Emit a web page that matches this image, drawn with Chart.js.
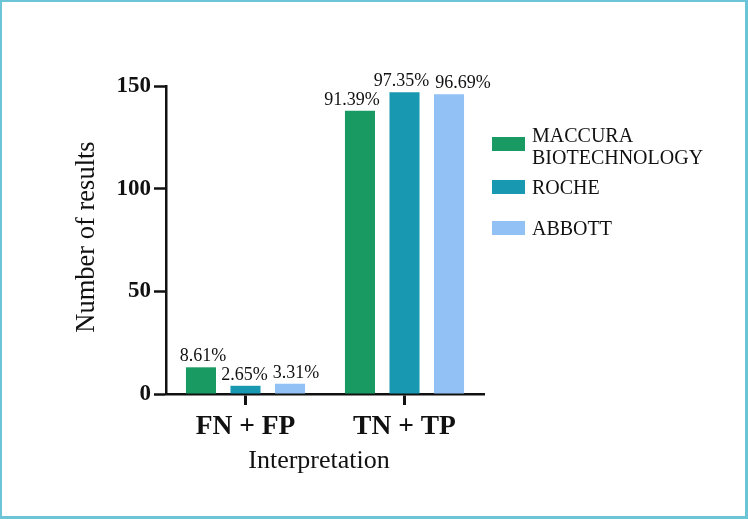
<!DOCTYPE html>
<html>
<head>
<meta charset="utf-8">
<script src="https://cdn.jsdelivr.net/npm/chart.js@4.4.1/dist/chart.umd.min.js"></script>
<style>
  html, body { margin: 0; padding: 0; background: #fff; }
  #wrap { position: relative; width: 748px; height: 519px; overflow: hidden; }
  #chart { position: absolute; left: 0; top: 0; }
  #frame {
    position: absolute; left: 0; top: 0; width: 748px; height: 519px;
    box-sizing: border-box; border-style: solid; border-color: #6cc5d6;
    border-width: 2px 3px 3px 2px; pointer-events: none;
  }
  /* force le chargement de la police avant le dessin du canvas */
  .preload { position: absolute; left: -999px; top: 0; font-family: "Liberation Serif"; }
</style>
</head>
<body>
<div id="wrap">
  <span class="preload">Aa1</span><span class="preload" style="font-weight:bold">Aa1</span>
  <canvas id="chart" width="748" height="519"></canvas>
  <div id="frame"></div>
</div>
<script>
// données (nombre de résultats, total 151 par test)
const categories = ['FN + FP', 'TN + TP'];
const maccura = [13, 138];
const roche = [4, 147];
const abbott = [5, 146];
const maccuraPct = ['8.61%', '91.39%'];
const rochePct = ['2.65%', '97.35%'];
const abbottPct = ['3.31%', '96.69%'];
const yTicks = [0, 50, 100, 150];

const SERIF = '"Liberation Serif", serif';
const INK = '#111111';

// décalage horizontal des étiquettes au-dessus des barres (comme sur l'original)
const labelShift = [[2, -8], [-1, -3], [6, 14]];

const barLabels = {
    id: 'barLabels',
    afterDatasetsDraw(chart) {
        const ctx = chart.ctx;
        ctx.save();
        ctx.font = '18px ' + SERIF;
        ctx.fillStyle = INK;
        ctx.textAlign = 'center';
        ctx.textBaseline = 'alphabetic';
        chart.data.datasets.forEach((ds, i) => {
            chart.getDatasetMeta(i).data.forEach((bar, j) => {
                ctx.fillText(ds.pct[j], bar.x + labelShift[i][j], bar.y - 6);
            });
        });
        ctx.restore();
    }
};

// titres des axes + légende dessinés à la main
const extras = {
    id: 'extras',
    afterDraw(chart) {
        const ctx = chart.ctx;
        const area = chart.chartArea;
        ctx.save();
        ctx.fillStyle = INK;

        // titre axe Y
        ctx.font = '26.5px ' + SERIF;
        ctx.textAlign = 'center';
        ctx.textBaseline = 'middle';
        ctx.translate(87, (area.top + area.bottom) / 2 - 3);
        ctx.rotate(-Math.PI / 2);
        ctx.fillText('Number of results', 0, 0);
        ctx.setTransform(1, 0, 0, 1, 0, 0);

        // titre axe X
        ctx.font = '26px ' + SERIF;
        ctx.textBaseline = 'alphabetic';
        ctx.fillText('Interpretation', 319, 468);

        // légende
        ctx.font = '20px ' + SERIF;
        ctx.textAlign = 'left';
        const boxes = [137, 180, 221];
        chart.data.datasets.forEach((ds, i) => {
            ctx.fillStyle = ds.backgroundColor;
            ctx.fillRect(492, boxes[i], 33, 14);
            ctx.fillStyle = INK;
            const lines = Array.isArray(ds.label) ? ds.label : [ds.label];
            if (lines.length > 1) {
                ctx.fillText(lines[0], 532, 142);
                ctx.fillText(lines[1], 532, 164);
            } else {
                ctx.fillText(lines[0], 532, boxes[i] + 14);
            }
        });
        ctx.restore();
    }
};

const drawChart = () => {
    new Chart(document.getElementById('chart'), {
        type: 'bar',
        data: {
            labels: categories,
            datasets: [
                { label: ['MACCURA', 'BIOTECHNOLOGY'], data: maccura, pct: maccuraPct, backgroundColor: '#1a9a63' },
                { label: 'ROCHE', data: roche, pct: rochePct, backgroundColor: '#1898b1' },
                { label: 'ABBOTT', data: abbott, pct: abbottPct, backgroundColor: '#92c1f6' }
            ]
        },
        options: {
            responsive: false,
            devicePixelRatio: 1,
            animation: false,
            categoryPercentage: 0.84,
            barPercentage: 0.675,
            layout: { padding: { left: 0, right: 264, top: 86, bottom: 0 } },
            plugins: { legend: { display: false }, tooltip: { enabled: false } },
            scales: {
                x: {
                    afterFit: (s) => { s.height = 125; },
                    grid: { offset: false, drawOnChartArea: false, drawTicks: true, tickLength: 11, tickWidth: 3, tickColor: INK },
                    border: { display: true, color: INK, width: 2.5 },
                    ticks: { color: INK, padding: 5, font: { family: SERIF, size: 27.5, weight: 'bold' } }
                },
                y: {
                    min: 0,
                    max: 150,
                    afterFit: (s) => { s.width = 166; },
                    afterBuildTicks: (s) => { s.ticks = yTicks.map(v => ({ value: v })); },
                    grid: { drawOnChartArea: false, drawTicks: true, tickLength: 12, tickWidth: 2.5, tickColor: INK },
                    border: { display: true, color: INK, width: 2.5 },
                    ticks: { color: INK, padding: 3, font: { family: SERIF, size: 23, weight: 'bold' } }
                }
            }
        },
        plugins: [barLabels, extras]
    });
};

Promise.all([
    document.fonts.load('20px "Liberation Serif"'),
    document.fonts.load('bold 20px "Liberation Serif"')
]).then(drawChart, drawChart);
</script>
</body>
</html>
